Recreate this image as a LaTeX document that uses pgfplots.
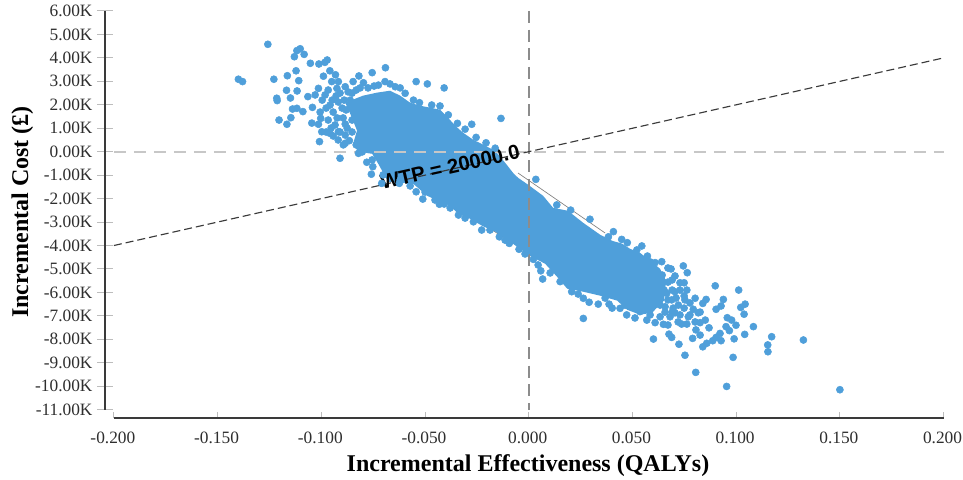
\documentclass[border=0pt]{standalone}
\usepackage{pgfplots}
\pgfplotsset{compat=1.18}
\usepackage{fontspec}
\setmainfont{Liberation Serif}
\newfontfamily\wtpfont{Liberation Sans}
\definecolor{ptblue}{HTML}{4F9FDA}
\definecolor{axdark}{HTML}{3A3A3A}
\definecolor{ticklight}{HTML}{BDBDBD}
\begin{document}
\begin{tikzpicture}
\path[use as bounding box] (0,0) rectangle (722.25pt,359.25pt);
\begin{axis}[
  at={(78.75pt,45.75pt)}, anchor=south west,
  scale only axis, width=628.95pt, height=305.25pt,
  xmin=-0.20431, xmax=0.2, ymin=-11.356, ymax=6,
  clip=false,
  axis line style={draw=none},
  xtick pos=lower, ytick pos=left,
  xtick align=inside, ytick align=center,
  xtick style={color=ticklight, line width=0.75pt, /pgfplots/major tick length=4.5pt},
  ytick style={color=ticklight, line width=0.75pt, /pgfplots/major tick length=11.25pt},
  xtick={-0.2,-0.15,-0.1,-0.05,0,0.05,0.1,0.15,0.2},
  xticklabels={-0.200,-0.150,-0.100,-0.050,0.000,0.050,0.100,0.150,0.200},
  ytick={6,5,4,3,2,1,0,-1,-2,-3,-4,-5,-6,-7,-8,-9,-10,-11},
  yticklabels={6.00K,5.00K,4.00K,3.00K,2.00K,1.00K,0.00K,-1.00K,-2.00K,-3.00K,-4.00K,-5.00K,-6.00K,-7.00K,-8.00K,-9.00K,-10.00K,-11.00K},
  tick label style={font=\fontsize{13pt}{15pt}\selectfont, text=black!82},
  xticklabel style={yshift=-7pt, xshift=-0.8pt},
  yticklabel style={xshift=-3.75pt},
  xlabel={\textbf{Incremental Effectiveness (QALYs)}},
  ylabel={\textbf{Incremental Cost (£)}},
  xlabel style={font=\fontsize{18pt}{20pt}\selectfont, at={(axis description cs:0.5044,-0.118)}, anchor=center},
  ylabel style={font=\fontsize{18pt}{20pt}\selectfont, at={(axis description cs:-0.0985,0.506)}, anchor=center, rotate=0},
]
% axis lines
\addplot[axdark, line width=1.5pt, mark=none] coordinates {(-0.20431,6) (-0.20431,-11)};
\addplot[axdark, line width=1.5pt, mark=none] coordinates {(-0.2,-11.356) (0.2,-11.356)};
% thin grey outline visible beside the cloud
\addplot[gray, line width=0.5pt, mark=none] coordinates {(-0.0052,-0.908) (0.0368,-3.467)};
\addplot[gray, line width=0.5pt, mark=none] coordinates {(-0.0331,-2.49) (0.0055,-4.62)};
% solid body of the cloud
\addplot[fill=ptblue, draw=none, mark=none] coordinates {
(-0.0847,0.34)(-0.0828,0.90)(-0.0861,1.62)(-0.0885,2.09)(-0.0799,2.39)(-0.0731,2.52)(-0.0669,2.60)(-0.0620,2.39)
(-0.0572,2.09)(-0.0524,1.96)(-0.0476,1.88)(-0.0428,1.79)(-0.0389,1.45)(-0.0355,1.11)(-0.0317,0.81)(-0.0268,0.51)
(-0.0220,0.30)(-0.0162,0.04)(-0.0114,-0.47)(-0.0076,-0.90)(-0.0052,-1.11)(-0.0003,-1.41)(0.0069,-1.88)(0.0117,-2.39)
(0.0189,-2.52)(0.0262,-3.03)(0.0344,-3.54)(0.0402,-3.80)(0.0450,-3.92)(0.0488,-4.14)(0.0536,-4.31)(0.0585,-4.65)
(0.0633,-4.99)(0.0662,-5.50)(0.0652,-6.35)(0.0594,-6.87)(0.0536,-6.95)(0.0474,-6.74)(0.0426,-6.35)(0.0344,-6.14)
(0.0262,-5.97)(0.0185,-5.84)(0.0136,-5.33)(0.0079,-4.78)(0.0006,-4.44)(-0.0042,-4.14)(-0.0090,-3.84)(-0.0162,-3.41)
(-0.0225,-3.16)(-0.0283,-2.86)(-0.0341,-2.64)(-0.0379,-2.30)(-0.0428,-2.13)(-0.0490,-1.88)(-0.0558,-1.36)(-0.0678,-1.28)
(-0.0726,-0.51)(-0.0755,-0.09)(-0.0823,0.00)
} --cycle;
% individual simulations
\addplot[only marks, color=ptblue, mark=*, mark size=2.65pt, mark options={fill=ptblue, draw=ptblue}] coordinates {
(-0.1258,4.58)(-0.1400,3.09)(-0.1380,2.99)(-0.1229,3.09)(-0.1164,3.24)(-0.1122,3.45)(-0.1109,3.03)(-0.1130,4.05)
(-0.1118,4.31)(-0.1102,4.39)(-0.1083,4.15)(-0.1053,3.77)(-0.1012,3.74)(-0.0983,3.81)(-0.0972,3.91)(-0.0959,3.45)
(-0.0932,3.28)(-0.0990,3.22)(-0.0950,2.99)(-0.0918,2.99)(-0.1168,2.62)(-0.1117,2.59)(-0.1149,2.29)(-0.1215,2.28)
(-0.1213,2.18)(-0.1065,2.35)(-0.1043,1.89)(-0.1139,1.82)(-0.1118,1.85)(-0.1089,1.71)(-0.1204,1.35)(-0.1147,1.45)
(-0.1166,1.17)(-0.1046,1.22)(-0.1009,0.43)(-0.1014,2.70)(-0.1030,2.42)(-0.1003,1.42)(-0.1014,1.17)(-0.0998,0.85)
(-0.0885,0.36)(-0.0865,0.47)(-0.0819,3.23)(-0.0755,3.37)(-0.0691,3.58)(-0.0693,2.99)(-0.0847,2.99)(-0.0797,2.94)
(-0.0885,2.77)(-0.0925,2.70)(-0.0725,2.84)
(-0.0982,2.42)(-0.0948,2.20)(-0.0910,2.50)(-0.0871,2.55)(-0.0977,1.86)(-0.0943,1.69)(-0.0900,1.86)(-0.0967,1.35)
(-0.0934,1.14)(-0.0895,1.44)(-0.0977,0.84)(-0.0943,0.67)(-0.0910,0.84)(-0.0876,1.01)(-0.0861,2.20)(-0.0852,1.35)
(-0.0832,2.63)(-0.0775,2.72)(-0.0919,0.50)(-0.0885,0.71)
(-0.0910,-0.28)(-0.0894,0.29)(-0.0958,0.78)(-0.0918,0.85)(-0.0821,-0.07)(-0.0781,-0.45)(-0.0752,-0.64)(-0.0759,-0.96)
(-0.0709,-1.35)(-0.0624,-1.35)(-0.0543,-1.71)(-0.0511,-2.02)(-0.0431,-2.24)(-0.0408,-2.23)
(-0.0543,2.99)(-0.0489,2.89)(-0.0408,2.72)(-0.0134,1.42)(-0.0644,2.77)(-0.0596,2.49)(-0.0556,2.20)(-0.0527,2.09)
(-0.0468,1.99)(-0.0428,1.95)(-0.0388,1.57)(-0.0344,1.21)(-0.0275,1.17)(-0.0307,0.96)(-0.0254,0.61)(-0.0206,0.38)
(-0.0162,0.15)(0.0034,-1.18)
(0.0295,-2.88)(0.0202,-2.49)(0.0135,-2.27)(-0.0227,-3.34)(-0.0339,-2.70)(-0.0267,-2.99)(-0.0142,-3.63)(-0.0094,-3.91)
(-0.0047,-4.16)(0.0022,-4.59)(0.0058,-5.08)(0.0067,-5.43)(0.0151,-5.54)(0.0191,-5.54)
(0.0408,-3.41)(0.0384,-3.63)(0.0448,-3.74)(0.0475,-3.88)(0.0545,-4.02)(0.0521,-4.19)(0.0572,-4.45)(0.0609,-4.73)
(0.0641,-4.69)(0.0745,-4.87)(0.0764,-5.16)(0.0686,-5.00)(0.0705,-5.30)(0.0729,-5.59)(0.0762,-5.90)(0.0802,-6.25)
(0.0207,-5.97)(0.0263,-6.25)(0.0291,-6.42)(0.0335,-6.50)(0.0387,-6.50)(0.0263,-7.11)(0.0472,-6.96)(0.0440,-6.68)
(0.0536,-6.82)(0.0402,-6.67)(0.0512,-7.09)
(0.0749,-5.59)(0.0899,-5.72)(0.1012,-5.90)(0.0705,-5.97)(0.0855,-6.30)(0.0938,-6.30)(0.0839,-6.47)(0.0927,-6.58)
(0.0903,-6.72)(0.1043,-6.50)(0.1022,-6.64)(0.1038,-6.93)(0.0817,-6.87)(0.0793,-6.72)(0.0753,-6.32)(0.0721,-6.54)
(0.0689,-6.32)(0.0665,-6.04)(0.0633,-6.25)(0.0657,-6.61)(0.0705,-6.87)(0.0769,-7.04)(0.0737,-7.35)(0.0762,-7.35)
(0.0649,-7.36)(0.0609,-7.29)(0.0569,-7.18)(0.0633,-7.04)(0.0681,-7.04)
(0.0601,-7.99)(0.0676,-7.78)(0.0689,-7.92)(0.0724,-8.21)(0.0753,-8.68)(0.0790,-7.96)(0.0806,-7.60)(0.0826,-7.82)
(0.0826,-7.29)(0.0851,-7.18)(0.0869,-7.51)(0.0839,-8.32)(0.0858,-8.17)(0.0887,-8.06)(0.0903,-7.92)(0.0922,-7.75)
(0.0927,-8.06)(0.0990,-7.98)(0.1041,-7.79)(0.1083,-7.46)(0.0957,-7.08)(0.0978,-7.18)(0.0951,-7.46)(0.0967,-7.63)
(0.0999,-7.40)(0.1171,-7.89)(0.1152,-8.24)(0.1153,-8.53)(0.0985,-8.77)
(0.1324,-8.03)(0.1500,-10.15)(0.0954,-10.01)(0.0805,-9.41)
(0.0643,-5.26)(0.0671,-5.56)(0.0633,-5.69)(0.0691,-5.90)(0.0671,-6.32)(0.0710,-6.24)(0.0657,-6.84)(0.0729,-6.96)
(0.0777,-6.45)(0.0749,-6.67)(0.0696,-6.67)
(-0.0996,2.20)(-0.0967,2.63)(-0.0929,2.38)(-0.0890,2.20)(-0.0958,1.99)(-0.0919,2.12)(-0.0881,1.78)(-0.1006,1.69)
(-0.0924,1.44)(-0.0885,1.18)(-0.0953,1.01)(-0.0852,2.50)(-0.0813,2.72)(-0.0746,2.80)(-0.0669,2.89)(-0.0620,2.72)
(-0.0852,0.84)(-0.0832,0.29)(-0.0803,-0.01)(-0.0755,-0.35)(-0.0702,-0.99)(-0.0620,-1.21)(-0.0572,-1.46)(-0.0500,-1.72)
(-0.0452,-2.06)(-0.0379,-2.40)(-0.0307,-2.83)(-0.0187,-3.34)(-0.0114,-3.77)(-0.0018,-4.36)(0.0045,-4.83)(0.0103,-5.17)
(0.0585,-4.70)(0.0671,-4.96)(0.0691,-5.47)(0.0729,-5.90)(0.0652,-5.90)(0.0749,-6.15)(0.0691,-6.84)(0.0633,-6.54)
(0.0585,-6.96)(0.0777,-6.96)(0.0826,-6.84)(0.0720,-7.26)(0.0671,-7.39)(0.0802,-7.26)(0.0464,-6.54)(0.0368,-6.24)(0.0238,-6.07)
};
% reference lines
\addplot[color=black!22, line width=1.5pt, dash pattern=on 9pt off 6pt, mark=none] coordinates {(-0.2,0) (0.2,0)};
\addplot[color=black!45, line width=1.5pt, dash pattern=on 9pt off 5pt, mark=none] coordinates {(0,6) (0,-11)};
\addplot[color=axdark, line width=0.85pt, dash pattern=on 6pt off 3pt, mark=none] coordinates {(-0.2,-4) (0.2,4)};
\node[rotate=12.7, font=\wtpfont\bfseries\fontsize{15.3pt}{17pt}\selectfont, text=black] at (axis cs:-0.03795,-0.652) {WTP = 20000.0};
\end{axis}
\end{tikzpicture}
\end{document}
